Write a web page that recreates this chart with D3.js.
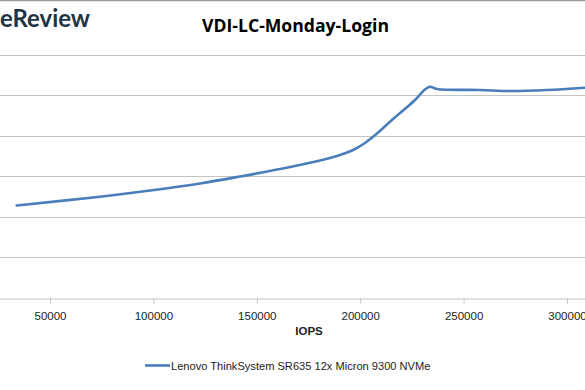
<!DOCTYPE html>
<html><head><meta charset="utf-8">
<script src="https://cdn.jsdelivr.net/npm/d3@7"></script>
<style>
html,body{margin:0;padding:0;background:#fff;overflow:hidden}
svg{display:block}
</style></head>
<body>
<svg id="c" width="585" height="390"></svg>
<script>
const title = "VDI-LC-Monday-Login";
const xTitle = "IOPS";
const seriesName = "Lenovo ThinkSystem SR635 12x Micron 9300 NVMe";
const xTicks = [50000, 100000, 150000, 200000, 250000, 300000];
const yTicks = [0, 1, 2, 3, 4, 5, 6];
const iops = [33900, 74200, 98400, 122500, 141900, 166100, 180600, 190200, 197500, 202300, 208100, 214400, 220700, 226500, 231300, 233800, 237100, 257900, 272400, 290300, 308700];
const latency = [2.272, 2.489, 2.642, 2.815, 2.988, 3.222, 3.383, 3.519, 3.667, 3.815, 4.049, 4.341, 4.615, 4.877, 5.136, 5.205, 5.148, 5.123, 5.099, 5.123, 5.180];

const svg = d3.select("#c");
const x = d3.scaleLinear().domain([0, 350000]).range([-53.4, 670.4]);
const y = d3.scaleLinear().domain([0, 6]).range([297.5, 54.5]);

// top border
svg.append("line").attr("x1",0).attr("x2",585).attr("y1",0.5).attr("y2",0.5)
  .attr("stroke","#9a9a9a").attr("stroke-width",1.5);

// gridlines
svg.append("g").selectAll("line").data(yTicks.filter(d=>d>0)).join("line")
  .attr("x1",0).attr("x2",585)
  .attr("y1",d=>Math.round(y(d))+0.5).attr("y2",d=>Math.round(y(d))+0.5)
  .attr("stroke","#c4c4c4").attr("stroke-width",1.2);

// x axis
const xa = svg.append("g").attr("transform",`translate(0,${Math.round(y(0))+0.5})`)
  .call(d3.axisBottom(x).tickValues(xTicks).tickSize(5).tickPadding(8).tickFormat(d3.format("d")));
xa.select(".domain").attr("stroke","#c4c4c4").attr("stroke-width",1.2);
xa.selectAll(".tick line").attr("stroke","#c4c4c4");
xa.selectAll(".tick text").attr("fill","#222").style("font-family","'Liberation Sans', Arial, sans-serif").style("font-size","11.5px");

// line
const line = d3.line().x((d,i)=>x(iops[i])).y(d=>y(d)).curve(d3.curveCatmullRom.alpha(0.5));
svg.append("path").datum(latency).attr("d",line).attr("fill","none")
  .attr("stroke","#4a7ebb").attr("stroke-width",2.6).attr("stroke-linecap","round");

// logo (cropped at left edge)
const probe = svg.append("text").style("font-family","Lato, 'Open Sans', sans-serif")
  .style("font-size","23px").style("font-weight","700").text("eReview");
const w = probe.node().getComputedTextLength();
probe.remove();
const logoSize = 23 * 90 / w;
svg.append("text").attr("x",90).attr("y",27).attr("text-anchor","end")
  .style("font-family","Lato, 'Open Sans', sans-serif").style("font-size",logoSize+"px").style("font-weight","700")
  .attr("fill","#1d3444").text("StorageReview");

// title
svg.append("text").attr("x",295.5).attr("y",32).attr("text-anchor","middle")
  .style("font-family","'Open Sans', 'Liberation Sans', sans-serif").style("font-size","17.6px").style("font-weight","700")
  .attr("fill","#000").text(title);

// x title
svg.append("text").attr("x",309).attr("y",335).attr("text-anchor","middle")
  .style("font-family","'Liberation Sans', Arial, sans-serif").style("font-size","11.5px").style("font-weight","700")
  .attr("fill","#222").text(xTitle);

// legend
svg.append("line").attr("x1",145).attr("x2",170).attr("y1",365.5).attr("y2",365.5)
  .attr("stroke","#4a7ebb").attr("stroke-width",2.6);
svg.append("text").attr("x",171).attr("y",369.5)
  .style("font-family","'Liberation Sans', Arial, sans-serif").style("font-size","11.1px")
  .attr("fill","#222").text(seriesName);
</script>
</body></html>
